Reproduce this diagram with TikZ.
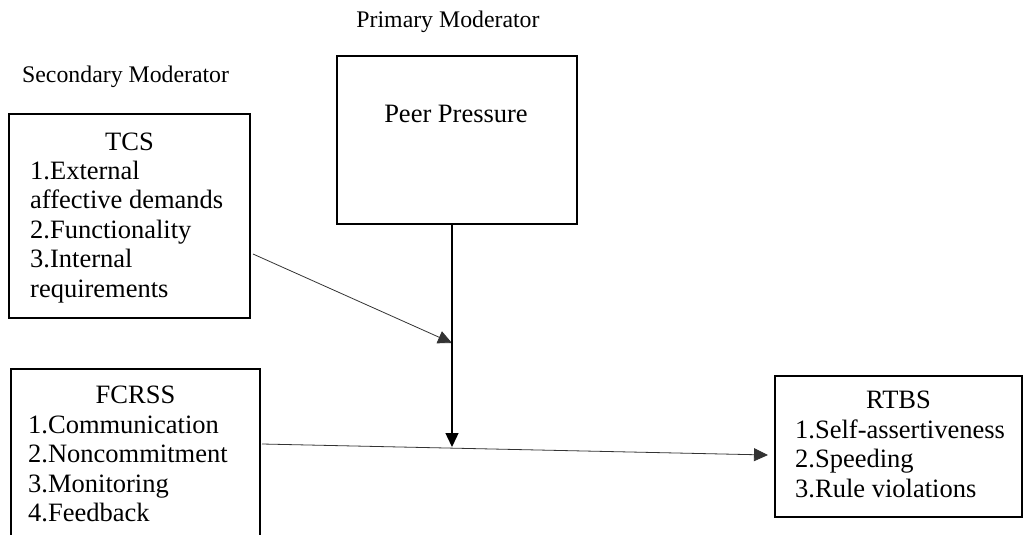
\documentclass[tikz,border=0pt]{standalone}
\usepackage{fontspec}
\setmainfont{Liberation Serif}
\usetikzlibrary{arrows.meta}
\begin{document}
\begin{tikzpicture}[x=1pt,y=-1pt,
  box/.style={draw, line width=1.3pt, anchor=north west, inner sep=0pt, outer sep=0pt},
  head/.style={anchor=base, inner sep=0pt, font=\fontsize{26.5}{29.5}\selectfont},
  % multi-line lists are placed by the baseline of their last line
  items/.style={anchor=base west, align=left, inner sep=0pt, font=\fontsize{26.5}{29.5}\selectfont},
  lab/.style={inner sep=0pt, font=\fontsize{23.8}{27}\selectfont},
  tip/.style={-{Triangle[length=14pt,width=13pt]}},
  thinline/.style={line width=0.8pt, draw=black!80},
  thickline/.style={line width=1.4pt}
]
\useasboundingbox (0,0) rectangle (1023,535);
\clip (0,0) rectangle (1023,535);

% headings above the moderator boxes
\node[lab, anchor=base] (prim) at (448,28) {Primary Moderator};
\node[lab, anchor=base west] (sec) at (22,83) {Secondary Moderator};

% boxes
\node[box, minimum width=240pt, minimum height=168pt] (peer) at (337,56) {};
\node[box, minimum width=241pt, minimum height=204pt] (tcs) at (9,114) {};
\node[box, minimum width=249pt, minimum height=200pt] (fcrss) at (11,369) {};
\node[box, minimum width=247pt, minimum height=141pt] (rtbs) at (775,376) {};

% box contents
\node[head] (peer-h) at (456,122) {Peer Pressure};

\node[head] (tcs-h) at (129.5,150) {TCS};
\node[items] (tcs-l) at (30,297) {1.External\\affective demands\\2.Functionality\\3.Internal\\requirements};

\node[head] (fcrss-h) at (135.5,403) {FCRSS};
\node[items] (fcrss-l) at (28,521.5) {1.Communication\\2.Noncommitment\\3.Monitoring\\4.Feedback};

\node[head] (rtbs-h) at (898.5,408) {RTBS};
\node[items] (rtbs-l) at (795,497) {1.Self-assertiveness\\2.Speeding\\3.Rule violations};

% connectors
\coordinate (j1) at (452,343);
\coordinate (j2) at (452,447);
\draw[thinline, tip] ([shift={(3,140)}]tcs.north east) -- (j1);
\draw[thickline, tip] ([xshift=-5pt]peer.south) -- (j2);
\draw[thinline, tip] ([shift={(2,75)}]fcrss.north east) -- ([shift={(-7,8.5)}]rtbs.west);
\end{tikzpicture}
\end{document}
